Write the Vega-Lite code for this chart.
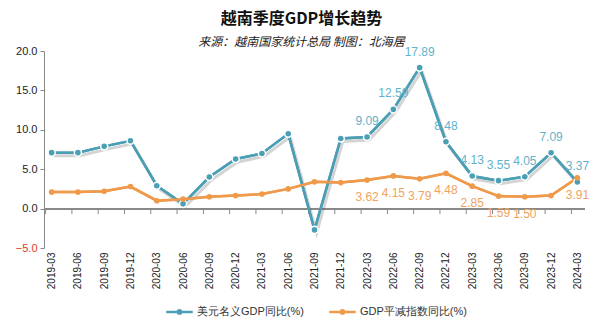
{
  "$schema": "https://vega.github.io/schema/vega-lite/v6.json",
  "width": 541,
  "height": 197,
  "autosize": "none",
  "padding": {"left": 44, "top": 51, "right": 13, "bottom": 81},
  "background": "white",
  "title": {
    "text": "越南季度GDP增长趋势",
    "subtitle": "来源：越南国家统计总局 制图：北海居",
    "anchor": "middle",
    "frame": "group",
    "dx": -13,
    "offset": -3,
    "font": "Noto Sans CJK SC",
    "fontSize": 16,
    "fontWeight": "bold",
    "color": "#111",
    "subtitleFont": "Noto Sans CJK SC",
    "subtitleFontSize": 12,
    "subtitleFontStyle": "italic",
    "subtitleColor": "#222",
    "subtitlePadding": 10
  },
  "config": {
    "view": {"stroke": null},
    "font": "Liberation Sans",
    "axisX": {
      "orient": "bottom",
      "title": null,
      "domain": false,
      "ticks": false,
      "labelAngle": -90,
      "labelPadding": 4,
      "labelFontSize": 10,
      "labelColor": "#222",
      "labelFont": "Liberation Sans",
      "labelOverlap": false
    },
    "axisY": {
      "title": null,
      "values": [-5, 0, 5, 10, 15, 20],
      "format": ".1f",
      "grid": false,
      "domain": true,
      "domainColor": "#888",
      "ticks": true,
      "tickColor": "#888",
      "tickSize": 4,
      "labelPadding": 3,
      "labelFontSize": 11,
      "labelFont": "Liberation Sans",
      "labelOverlap": false,
      "labelColor": {"condition": {"test": "datum.value < 0", "value": "#e03a1e"}, "value": "#222"}
    }
  },
  "data": {
    "values": [
      {"date": "2019-03", "美元名义GDP同比(%)": 7.1, "GDP平减指数同比(%)": 2.1},
      {"date": "2019-06", "美元名义GDP同比(%)": 7.1, "GDP平减指数同比(%)": 2.1},
      {"date": "2019-09", "美元名义GDP同比(%)": 7.9, "GDP平减指数同比(%)": 2.2},
      {"date": "2019-12", "美元名义GDP同比(%)": 8.6, "GDP平减指数同比(%)": 2.8},
      {"date": "2020-03", "美元名义GDP同比(%)": 2.9, "GDP平减指数同比(%)": 1.0},
      {"date": "2020-06", "美元名义GDP同比(%)": 0.6, "GDP平减指数同比(%)": 1.2},
      {"date": "2020-09", "美元名义GDP同比(%)": 4.0, "GDP平减指数同比(%)": 1.5},
      {"date": "2020-12", "美元名义GDP同比(%)": 6.3, "GDP平减指数同比(%)": 1.65},
      {"date": "2021-03", "美元名义GDP同比(%)": 7.0, "GDP平减指数同比(%)": 1.85},
      {"date": "2021-06", "美元名义GDP同比(%)": 9.5, "GDP平减指数同比(%)": 2.5},
      {"date": "2021-09", "美元名义GDP同比(%)": -2.7, "GDP平减指数同比(%)": 3.4},
      {"date": "2021-12", "美元名义GDP同比(%)": 8.9, "GDP平减指数同比(%)": 3.3},
      {"date": "2022-03", "美元名义GDP同比(%)": 9.09, "GDP平减指数同比(%)": 3.62},
      {"date": "2022-06", "美元名义GDP同比(%)": 12.59, "GDP平减指数同比(%)": 4.15},
      {"date": "2022-09", "美元名义GDP同比(%)": 17.89, "GDP平减指数同比(%)": 3.79},
      {"date": "2022-12", "美元名义GDP同比(%)": 8.48, "GDP平减指数同比(%)": 4.48},
      {"date": "2023-03", "美元名义GDP同比(%)": 4.13, "GDP平减指数同比(%)": 2.85},
      {"date": "2023-06", "美元名义GDP同比(%)": 3.55, "GDP平减指数同比(%)": 1.59},
      {"date": "2023-09", "美元名义GDP同比(%)": 4.05, "GDP平减指数同比(%)": 1.50},
      {"date": "2023-12", "美元名义GDP同比(%)": 7.09, "GDP平减指数同比(%)": 1.65},
      {"date": "2024-03", "美元名义GDP同比(%)": 3.37, "GDP平减指数同比(%)": 3.91}
    ]
  },
  "transform": [
    {"fold": ["美元名义GDP同比(%)", "GDP平减指数同比(%)"], "as": ["key", "value"]}
  ],
  "layer": [
    {
      "mark": {"type": "line", "strokeWidth": 2.5},
      "encoding": {
        "x": {"field": "date", "type": "ordinal", "title": null, "scale": {"type": "point", "padding": 0.29}},
        "y": {"field": "value", "type": "quantitative", "title": null, "scale": {"domain": [-5, 20], "nice": false, "zero": false}},
        "color": {
          "field": "key",
          "type": "nominal",
          "scale": {"domain": ["美元名义GDP同比(%)", "GDP平减指数同比(%)"], "range": ["#4a9fb5", "#ef9a4b"]},
          "legend": {
            "title": null,
            "orient": "none",
            "direction": "horizontal",
            "legendX": 121,
            "legendY": 246,
            "symbolType": "M-1,0L1,0M0.12,0A0.12,0.12,0,1,1,-0.12,0A0.12,0.12,0,1,1,0.12,0",
            "symbolSize": 700,
            "symbolStrokeWidth": 2.5,
            "labelFontSize": 11,
            "labelFont": "Liberation Sans",
            "labelColor": "#333",
            "columnPadding": 20,
            "labelOffset": 3
          }
        }
      }
    },
    {
      "transform": [{"filter": "datum.key == '美元名义GDP同比(%)'"}],
      "mark": {"type": "rule", "color": "#888", "strokeWidth": 1, "xOffset": -6},
      "encoding": {
        "x": {"field": "date", "type": "ordinal", "title": null},
        "y": {"datum": 0, "type": "quantitative", "title": null},
        "y2": {"datum": -0.7}
      }
    },
    {
      "mark": {"type": "rule", "color": "#888", "strokeWidth": 1},
      "encoding": {"y": {"datum": 0, "type": "quantitative", "title": null}}
    },
    {
      "transform": [{"filter": "datum.key == '美元名义GDP同比(%)'"}],
      "mark": {"type": "line", "color": "#555", "opacity": 0.25, "strokeWidth": 3, "xOffset": 2, "yOffset": 3},
      "encoding": {
        "x": {"field": "date", "type": "ordinal", "title": null},
        "y": {"field": "value", "type": "quantitative", "title": null}
      }
    },
    {
      "mark": {"type": "line", "strokeWidth": 2.5},
      "encoding": {
        "x": {"field": "date", "type": "ordinal", "title": null},
        "y": {"field": "value", "type": "quantitative", "title": null},
        "color": {"field": "key", "type": "nominal"}
      }
    },
    {
      "transform": [{"filter": "datum.key == '美元名义GDP同比(%)'"}],
      "mark": {"type": "point", "filled": true, "fill": "#4a9fb5", "stroke": "white", "strokeWidth": 1.5, "size": 50, "opacity": 1},
      "encoding": {
        "x": {"field": "date", "type": "ordinal", "title": null},
        "y": {"field": "value", "type": "quantitative", "title": null}
      }
    },
    {
      "transform": [{"filter": "datum.key == 'GDP平减指数同比(%)'"}],
      "mark": {"type": "point", "filled": true, "fill": "#ef9a4b", "strokeWidth": 0, "size": 32, "opacity": 1},
      "encoding": {
        "x": {"field": "date", "type": "ordinal", "title": null},
        "y": {"field": "value", "type": "quantitative", "title": null}
      }
    },
    {
      "transform": [{"filter": "datum.key == '美元名义GDP同比(%)' && datum.date >= '2022-03'"}],
      "mark": {"type": "text", "dy": -16, "fontSize": 12, "font": "Liberation Sans", "color": "#5fb2cb"},
      "encoding": {
        "x": {"field": "date", "type": "ordinal", "title": null},
        "y": {"field": "value", "type": "quantitative", "title": null},
        "text": {"field": "value", "type": "quantitative", "format": ".2f"}
      }
    },
    {
      "transform": [{"filter": "datum.key == 'GDP平减指数同比(%)' && datum.date >= '2022-03' && datum.date != '2023-12'"}],
      "mark": {"type": "text", "dy": 17, "fontSize": 12, "font": "Liberation Sans", "color": "#f0a35f"},
      "encoding": {
        "x": {"field": "date", "type": "ordinal", "title": null},
        "y": {"field": "value", "type": "quantitative", "title": null},
        "text": {"field": "value", "type": "quantitative", "format": ".2f"}
      }
    }
  ]
}
